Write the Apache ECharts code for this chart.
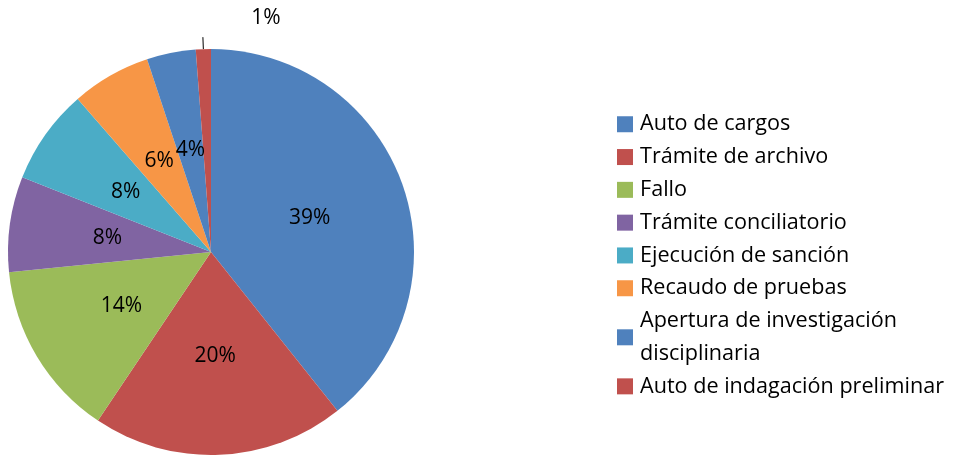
<!DOCTYPE html>
<html>
<head>
<meta charset="utf-8">
<script src="https://cdn.jsdelivr.net/npm/echarts@6/dist/echarts.min.js"></script>
<style>
  html, body { margin: 0; padding: 0; background: #fff; }
  #chart { width: 967px; height: 456px; }
</style>
</head>
<body>
<div id="chart"></div>
<script>
// Etapas procesales (porcentaje de casos)
const categories = [
  "Auto de cargos",
  "Trámite de archivo",
  "Fallo",
  "Trámite conciliatorio",
  "Ejecución de sanción",
  "Recaudo de pruebas",
  "Apertura de investigación\ndisciplinaria",
  "Auto de indagación preliminar"
];
const values = [39.3, 20.1, 14.0, 7.6, 7.6, 6.3, 3.9, 1.2];
const colors = ["#4F81BD", "#C0504D", "#9BBB59", "#8064A2", "#4BACC6", "#F79646", "#4F81BD", "#C0504D"];

const chart = echarts.init(document.getElementById("chart"));

const data = categories.map((name, i) => {
  const item = { name: name, value: values[i], itemStyle: { color: colors[i] } };
  // the smallest slice gets its label outside with a short leader line
  if (i === categories.length - 1) {
    item.label = { position: "outside" };
    item.labelLine = { show: true, length: 12, length2: 0, lineStyle: { color: "#000", width: 1 } };
  }
  return item;
});

chart.setOption({
  animation: false,
  legend: {
    orient: "vertical",
    left: 612,
    top: 103,
    itemWidth: 16,
    itemHeight: 16,
    itemGap: 0.3,
    icon: "rect",
    selectedMode: false,
    textStyle: {
      fontFamily: "Open Sans",
      fontSize: 21.6,
      color: "#000",
      lineHeight: 32.5,
      padding: [0, 0, 0, 2]
    }
  },
  series: [
    {
      type: "pie",
      center: [211, 252],
      radius: 203,
      startAngle: 90,
      clockwise: true,
      avoidLabelOverlap: false,
      emphasis: { disabled: true },
      itemStyle: { borderWidth: 0 },
      label: {
        show: true,
        position: "inner",
        fontFamily: "Open Sans",
        fontSize: 21,
        color: "#000",
        formatter: (p) => Math.round(p.percent) + "%"
      },
      labelLine: { show: false },
      labelLayout: (params) => {
        if (params.dataIndex !== categories.length - 1) return;
        const pts = params.labelLinePoints;
        if (!pts) return;
        const end = pts[pts.length - 1];
        return {
          x: end[0] + 63,
          y: end[1] - 19,
          align: "center",
          verticalAlign: "middle",
          labelLinePoints: pts
        };
      },
      data: data
    }
  ]
});
</script>
</body>
</html>
